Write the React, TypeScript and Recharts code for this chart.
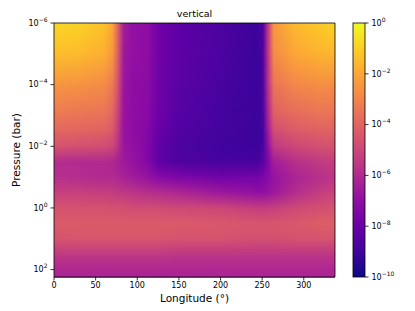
import { ComposedChart, XAxis, YAxis, ReferenceArea, Label } from "recharts";

const lonCols = [0, 30, 60, 70, 76, 84, 95, 112, 125, 150, 200, 245, 251, 257, 264, 290, 320, 337.5];

// pressure levels, log10(bar)
const logP = [-6, -5, -4, -3, -2.5, -2, -1.5, -1, -0.5, 0, 0.5, 1, 1.5, 2, 2.24];

// log10 of the field at each level, one value per longitude column
const p1e_6 = [-0.8, -0.9, -1.3, -2.0, -3.8, -6.5, -6.9, -7.0, -7.8, -8.3, -8.7, -9.1, -8.6, -5.5, -2.4, -1.5, -1.1, -0.9];
const p1e_5 = [-1.4, -1.5, -1.8, -2.4, -4.0, -6.6, -6.9, -7.0, -7.8, -8.3, -8.7, -9.1, -8.6, -5.6, -2.8, -2.0, -1.7, -1.6];
const p1e_4 = [-2.5, -2.6, -2.8, -3.3, -4.5, -6.7, -7.0, -7.1, -7.8, -8.4, -8.8, -9.1, -8.7, -5.8, -3.5, -2.9, -2.7, -2.7];
const p1e_3 = [-3.4, -3.5, -3.6, -4.0, -5.0, -6.8, -7.0, -7.2, -7.9, -8.5, -8.9, -9.1, -8.8, -6.2, -4.2, -3.8, -3.6, -3.6];
const p3e_3 = [-3.9, -4.0, -4.1, -4.4, -5.3, -6.8, -7.0, -7.3, -8.0, -8.6, -8.9, -9.1, -8.8, -6.6, -4.8, -4.3, -4.1, -4.1];
const p1e_2 = [-4.6, -4.7, -4.8, -5.0, -5.6, -6.7, -6.9, -7.4, -8.2, -8.7, -9.0, -9.1, -8.8, -7.0, -5.5, -5.0, -4.7, -4.6];
const p3e_2 = [-5.9, -6.0, -6.0, -6.1, -6.3, -6.6, -6.8, -7.3, -8.2, -8.6, -8.8, -8.8, -8.4, -7.4, -6.4, -5.8, -5.4, -5.3];
const p1e_1 = [-5.8, -5.9, -6.0, -6.0, -6.1, -6.3, -6.5, -6.8, -7.2, -7.5, -7.8, -7.7, -7.5, -7.2, -6.8, -6.2, -5.8, -5.6];
const p3e_1 = [-5.2, -5.2, -5.3, -5.3, -5.4, -5.5, -5.6, -5.8, -5.9, -6.1, -6.6, -6.9, -6.9, -6.8, -6.6, -5.9, -5.3, -5.1];
const p1e0 = [-4.6, -4.6, -4.6, -4.7, -4.7, -4.7, -4.8, -4.8, -4.8, -4.9, -5.0, -5.3, -5.3, -5.3, -5.2, -4.9, -4.7, -4.6];
const p3e0 = [-4.3, -4.3, -4.3, -4.3, -4.3, -4.3, -4.3, -4.3, -4.3, -4.3, -4.4, -4.5, -4.5, -4.5, -4.5, -4.4, -4.2, -4.2];
const p1e1 = [-4.6, -4.5, -4.5, -4.5, -4.5, -4.5, -4.5, -4.5, -4.5, -4.6, -4.6, -4.7, -4.7, -4.7, -4.7, -4.6, -4.6, -4.6];
const p3e1 = [-5.5, -5.5, -5.5, -5.5, -5.5, -5.5, -5.5, -5.5, -5.5, -5.6, -5.6, -5.6, -5.6, -5.6, -5.6, -5.6, -5.6, -5.6];
const p1e2 = [-6.1, -6.1, -6.1, -6.1, -6.1, -6.1, -6.1, -6.1, -6.1, -6.1, -6.1, -6.1, -6.1, -6.1, -6.1, -6.1, -6.1, -6.1];
const p2e2 = [-6.2, -6.2, -6.2, -6.2, -6.2, -6.2, -6.2, -6.2, -6.2, -6.2, -6.2, -6.2, -6.2, -6.2, -6.2, -6.2, -6.2, -6.2];

const rows = [p1e_6, p1e_5, p1e_4, p1e_3, p3e_3, p1e_2, p3e_2, p1e_1, p3e_1, p1e0, p3e0, p1e1, p3e1, p1e2, p2e2];

const lonTicks = [0, 50, 100, 150, 200, 250, 300];
const pTicks = [-6, -4, -2, 0, 2];
const cbarTicks = [-10, -8, -6, -4, -2, 0];

const LON_MAX = 337.5;
const P_BOTTOM = 2.24;

// matplotlib plasma, 11 anchor colours
const PLASMA = ["#0d0887", "#41049d", "#6a00a8", "#8f0da4", "#b12a90", "#cc4778", "#e16462", "#f2844b", "#fca636", "#fcce25", "#f0f921"];

const hex = (c: string) => [1, 3, 5].map((i) => parseInt(c.slice(i, i + 2), 16));

function plasma(v: number) {
  const t = Math.min(1, Math.max(0, (v + 10) / 10)) * 10;
  const i = Math.min(9, Math.floor(t));
  const f = t - i;
  const a = hex(PLASMA[i]);
  const b = hex(PLASMA[i + 1]);
  const c = a.map((x, k) => Math.round(x + (b[k] - x) * f));
  return `rgb(${c[0]},${c[1]},${c[2]})`;
}

const FONT = "DejaVu Sans, sans-serif";

const sup = (v: number) => (v < 0 ? `\u2212${-v}` : `${v}`);

const PowTick = (props: any) => {
  const { x, y, payload, textAnchor } = props;
  return (
    <text x={x} y={y} dy="0.35em" textAnchor={textAnchor} fontSize={8} fill="#000" fontFamily={FONT}>
      10
      <tspan dy={-4} fontSize={6}>
        {sup(payload.value)}
      </tspan>
    </text>
  );
};

// strip between two levels: upper row colours, lower row faded in
const Strip = (i: number) => (props: any) => {
  const { x, y, width, height } = props;
  return (
    <g>
      <rect x={x} y={y} width={width} height={height + 0.6} fill={`url(#row${i})`} />
      <rect x={x} y={y} width={width} height={height + 0.6} fill={`url(#row${i + 1})`} mask="url(#fadeDown)" />
    </g>
  );
};

// colour bar body
const CbarShape = (props: any) => {
  const { x, y, width, height } = props;
  return <rect x={x} y={y} width={width} height={height} fill="url(#cbar)" stroke="#000" strokeWidth={0.8} />;
};

export default function App() {
  return (
    <div style={{ position: "absolute", left: 0, top: 0, width: 415, height: 311, background: "#fff" }}>
      <ComposedChart
        width={415}
        height={311}
        margin={{ top: 23, right: 80, bottom: 0, left: 0 }}
        style={{ position: "absolute", left: 0, top: 0 }}
      >
        <defs>
          {rows.map((r, i) => (
            <linearGradient key={i} id={`row${i}`} x1="0" y1="0" x2="1" y2="0">
              {r.map((v, k) => (
                <stop key={k} offset={lonCols[k] / LON_MAX} stopColor={plasma(v)} />
              ))}
            </linearGradient>
          ))}
          <linearGradient id="vfade" x1="0" y1="0" x2="0" y2="1">
            <stop offset="0" stopColor="#000" />
            <stop offset="1" stopColor="#fff" />
          </linearGradient>
          <mask id="fadeDown" maskContentUnits="objectBoundingBox">
            <rect x="0" y="0" width="1" height="1" fill="url(#vfade)" />
          </mask>
        </defs>
        <XAxis
          type="number"
          dataKey="lon"
          domain={[0, LON_MAX]}
          ticks={lonTicks}
          allowDataOverflow
          height={34}
          tickSize={3.5}
          tickMargin={2}
          axisLine={false}
          tickLine={{ stroke: "#000", strokeWidth: 0.8 }}
          tick={{ fill: "#000", fontSize: 8, fontFamily: FONT }}
        >
          <Label value="Longitude (°)" position="insideBottom" offset={9} fill="#000" fontSize={10.5} fontFamily={FONT} />
        </XAxis>
        <YAxis
          type="number"
          dataKey="p"
          domain={[-6, P_BOTTOM]}
          ticks={pTicks}
          reversed
          allowDataOverflow
          width={54}
          tickSize={3.5}
          tickMargin={3}
          axisLine={false}
          tickLine={{ stroke: "#000", strokeWidth: 0.8 }}
          tick={<PowTick />}
        >
          <Label
            value="Pressure (bar)"
            angle={-90}
            position="insideLeft"
            offset={16}
            fill="#000"
            fontSize={10.5}
            fontFamily={FONT}
            style={{ textAnchor: "middle" }}
          />
        </YAxis>
        {logP.slice(0, -1).map((p, i) => (
          <ReferenceArea
            key={i}
            x1={0}
            x2={LON_MAX}
            y1={p}
            y2={logP[i + 1]}
            ifOverflow="visible"
            shape={Strip(i)}
          />
        ))}
        <ReferenceArea x1={0} x2={LON_MAX} y1={-6} y2={P_BOTTOM} fill="none" stroke="#000" strokeWidth={0.8} ifOverflow="visible" />
        <text x={194.5} y={17} textAnchor="middle" fontSize={9.5} fill="#000" fontFamily={FONT}>
          vertical
        </text>
      </ComposedChart>

      <ComposedChart
        width={415}
        height={311}
        margin={{ top: 23, right: 0, bottom: 0, left: 353 }}
        style={{ position: "absolute", left: 0, top: 0 }}
      >
        <defs>
          <linearGradient id="cbar" x1="0" y1="1" x2="0" y2="0">
            {PLASMA.map((c, k) => (
              <stop key={k} offset={k / (PLASMA.length - 1)} stopColor={c} />
            ))}
          </linearGradient>
        </defs>
        <XAxis
          type="number"
          dataKey="u"
          domain={[0, 1]}
          allowDataOverflow
          height={34}
          tick={false}
          tickLine={false}
          axisLine={false}
        />
        <YAxis
          type="number"
          dataKey="v"
          orientation="right"
          domain={[-10, 0]}
          ticks={cbarTicks}
          allowDataOverflow
          width={50}
          tickSize={3.5}
          tickMargin={3}
          axisLine={false}
          tickLine={{ stroke: "#000", strokeWidth: 0.8 }}
          tick={<PowTick />}
        />
        <ReferenceArea x1={0} x2={1} y1={-10} y2={0} ifOverflow="visible" shape={CbarShape} />
      </ComposedChart>
    </div>
  );
}
